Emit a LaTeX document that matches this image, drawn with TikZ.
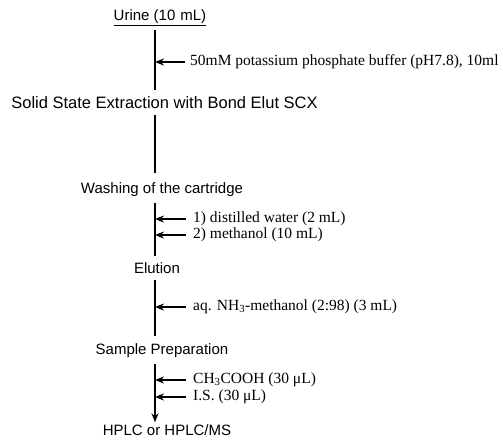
\documentclass[tikz,border=0pt]{standalone}
\usepackage{fontspec}
\setmainfont{Liberation Serif}
\setsansfont{Liberation Sans}
\usetikzlibrary{arrows.meta}
\tikzset{
  stage/.style={font=\sffamily\fontsize{15}{17}\selectfont, inner sep=0pt},
  reagent/.style={font=\fontsize{15.5}{17}\selectfont, anchor=west, inner sep=0pt},
  flow/.style={line width=1.8pt},
  feed/.style={line width=1.5pt, -{Stealth[length=9pt,width=7pt]}},
}
\begin{document}
\begin{tikzpicture}[x=1pt,y=-1pt]
\useasboundingbox (0,0) rectangle (503,440);
\coordinate (axis) at (155,0);
% steps
\node[stage] (urine) at (160,18) {\underline{Urine (10\,\,mL)}};
\node[stage, font=\sffamily\fontsize{16.5}{18}\selectfont] (spe) at (164.5,103) {Solid State Extraction with Bond Elut SCX};
\node[stage] (wash) at (162,190) {Washing of the cartridge};
\node[stage] (elu) at (157,268) {Elution};
\node[stage] (prep) at (162,351) {Sample Preparation};
\node[stage] (hplc) at (167,430) {HPLC or HPLC/MS};
% reagents
\node[reagent] (buf) at (190,62) {50mM potassium phosphate buffer (pH7.8), 10ml};
\node[reagent] (water) at (193,219) {1) distilled water (2 mL)};
\node[reagent] (meoh) at (193,235) {2) methanol (10 mL)};
\node[reagent] (nh3) at (193,307) {aq. NH\textsubscript{3}-methanol (2:98) (3 mL)};
\node[reagent] (acid) at (193,380) {CH\textsubscript{3}COOH (30 μL)};
\node[reagent] (is) at (193,397) {I.S. (30 μL)};
% main line
\draw[flow, shorten <=4pt, shorten >=7pt] (urine.south -| axis) to (spe.north -| axis);
\draw[flow, shorten <=6pt, shorten >=10pt] (spe.south -| axis) to (wash.north -| axis);
\draw[flow, shorten <=6pt, shorten >=6pt] (wash.south -| axis) to (elu.north -| axis);
\draw[flow, shorten <=6pt, shorten >=8pt] (elu.south -| axis) to (prep.north -| axis);
\draw[flow, shorten <=6pt, shorten >=2pt, -{Stealth[length=9pt,width=7pt]}] (prep.south -| axis) to (hplc.north -| axis);
% additions
\draw[feed, shorten <=5pt] (buf.west) to (buf.west -| axis);
\draw[feed, shorten <=7pt] (water.west) to (water.west -| axis);
\draw[feed, shorten <=7pt] (meoh.west) to (meoh.west -| axis);
\draw[feed, shorten <=7pt] (nh3.west) to (nh3.west -| axis);
\draw[feed, shorten <=7pt] (acid.west) to (acid.west -| axis);
\draw[feed, shorten <=7pt] (is.west) to (is.west -| axis);
\end{tikzpicture}
\end{document}
